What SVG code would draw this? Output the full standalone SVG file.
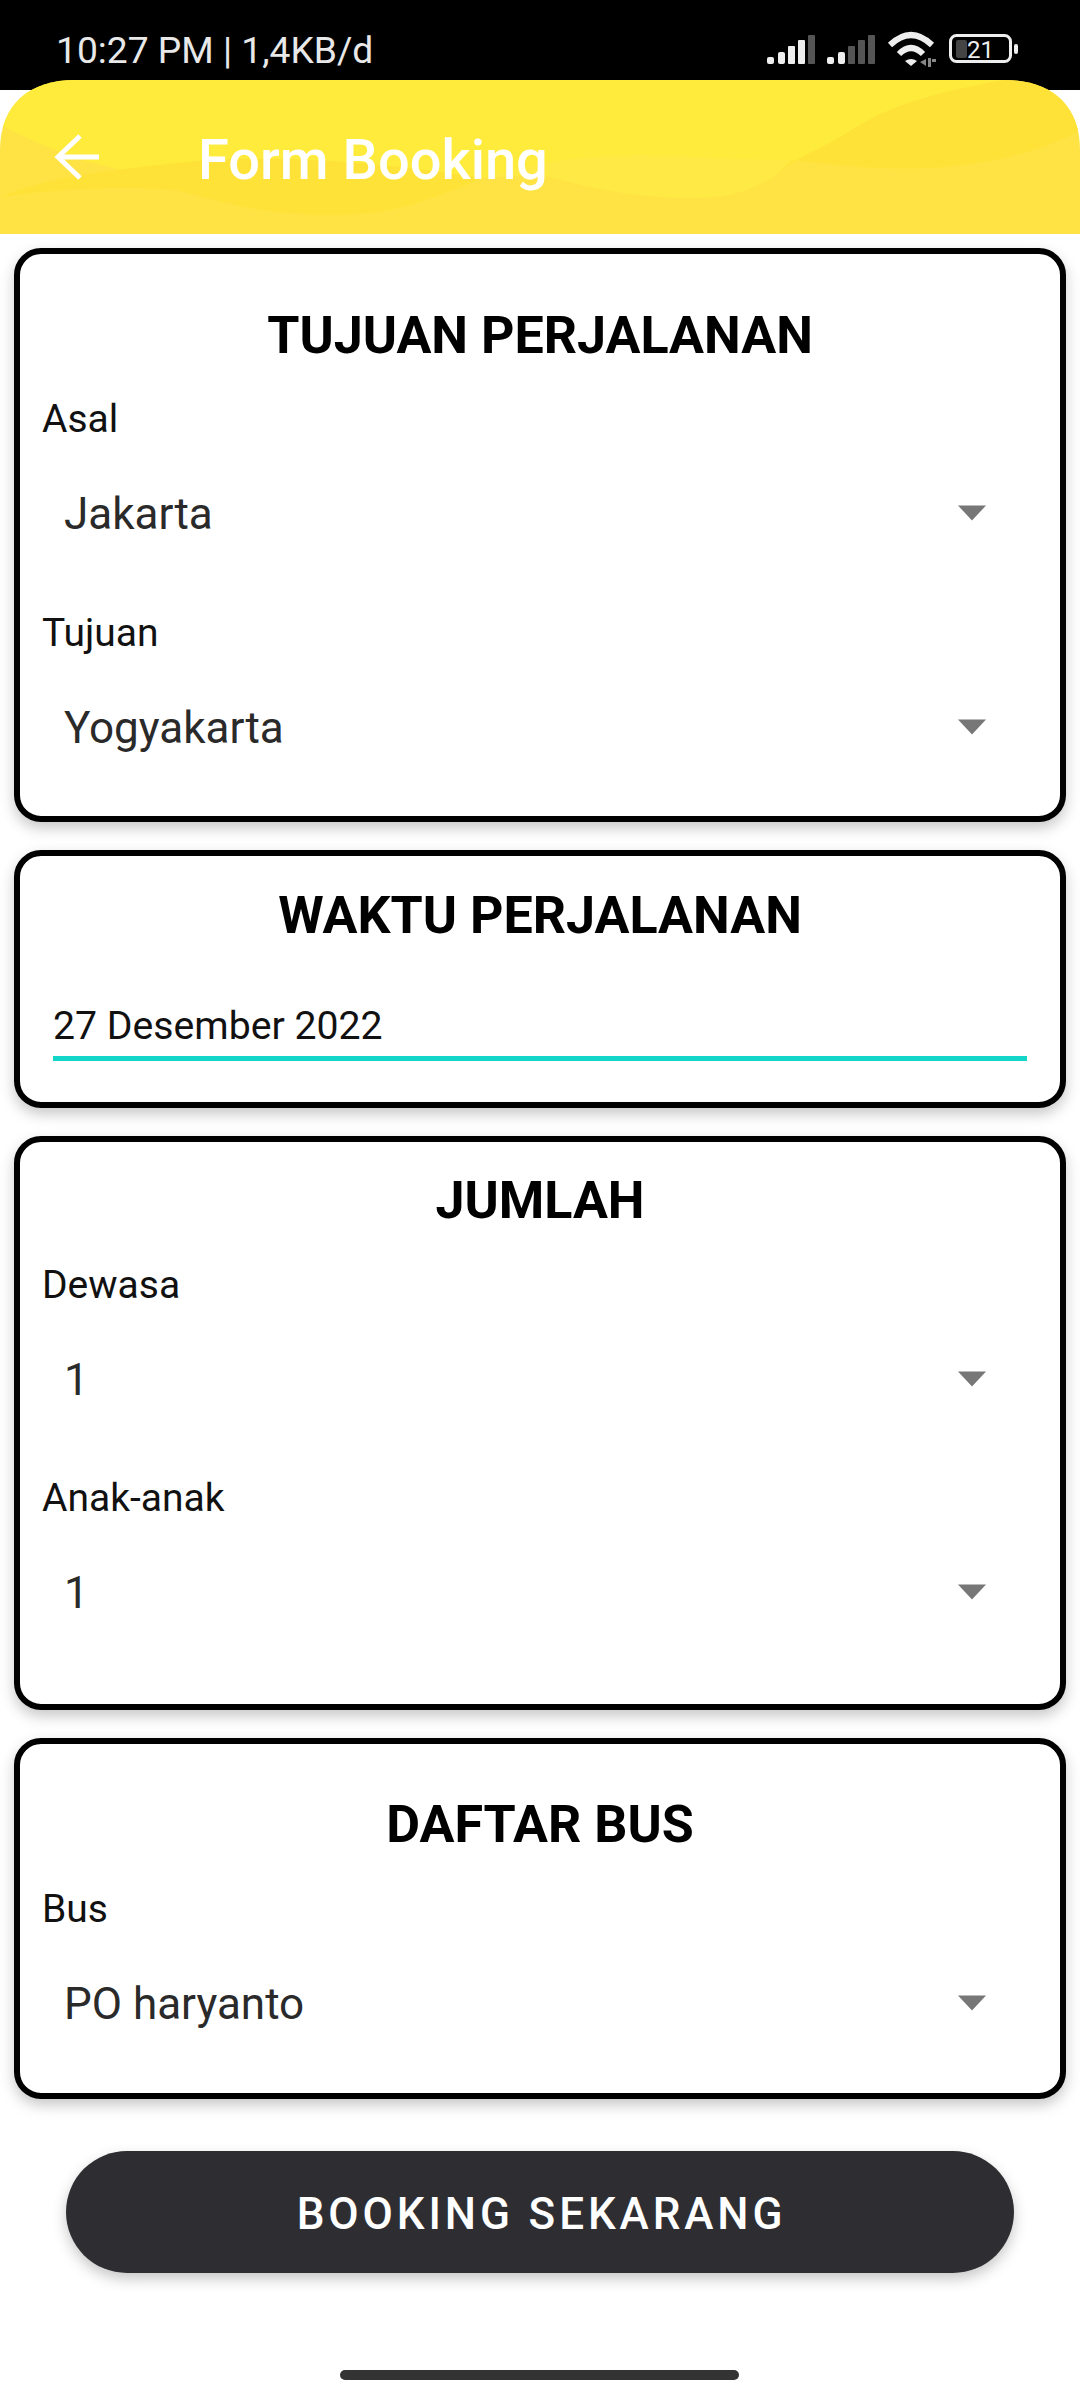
<svg xmlns="http://www.w3.org/2000/svg" width="1080" height="2400" viewBox="0 0 1080 2400">
<style>
text{font-family:Roboto,"Liberation Sans",sans-serif}
.card{fill:#fff;stroke:#000;stroke-width:6;filter:url(#sh)}
.h{font-size:52px;font-weight:700;fill:#000;text-anchor:middle}
.l{font-size:39px;fill:#111}
.v{font-size:44px;fill:#2a2a2a}
.a{fill:#777}
</style>
<defs>
<filter id="sh" x="-5%" y="-10%" width="110%" height="125%"><feDropShadow dx="0" dy="6" stdDeviation="7" flood-color="#000" flood-opacity=".22"/></filter>
<clipPath id="barclip"><path d="M0 234V150C0 104 30 80 75 80H1005C1050 80 1080 104 1080 150V234Z"/></clipPath>
<path id="tri" d="M-14 -7.500H14L0 7.500Z"/>
</defs>
<rect width="1080" height="2400" fill="#fff"/>
<rect width="1080" height="90" fill="#000"/>
<g id="statusbar">
<text x="56" y="63" font-size="37.200" fill="#e8e8e8">10:27 PM | 1,4KB/d</text>
<g fill="#eee">
<rect x="767" y="57" width="7" height="7" rx="2"/><rect x="778" y="52" width="7" height="12" rx="2"/><rect x="788" y="46" width="7" height="18" rx="1"/><rect x="798" y="40" width="7" height="24" rx="1"/>
<rect x="827" y="57" width="7" height="7" rx="2"/><rect x="838" y="52" width="7" height="12" rx="2"/>
</g>
<g fill="#555"><rect x="808" y="35" width="7" height="29" rx="1"/><rect x="848" y="46" width="7" height="18" rx="1"/><rect x="858" y="40" width="7" height="24" rx="1"/><rect x="868" y="35" width="7" height="29" rx="1"/></g>
<g fill="none" stroke="#eee" stroke-width="6"><path d="M890 45Q911 25 932 45"/><path d="M899 54Q911 42 923 54"/></g>
<path d="M905 61Q911 57 917 61L911 66Z" fill="#eee"/>
<path d="M920 62l6-3v7zM928 58h3v9h-3zM932 59h4v3h-4z" fill="#888"/>
<rect x="950.500" y="35.500" width="60" height="26" rx="6" fill="none" stroke="#eee" stroke-width="3"/>
<rect x="956" y="40" width="11" height="18" rx="2" fill="#444"/>
<text x="967" y="58" font-size="24" fill="#eee">21</text>
<rect x="1014" y="44" width="4" height="10" rx="2" fill="#eee"/>
</g>
<g id="appbar">
<g clip-path="url(#barclip)">
<rect y="78" width="1080" height="156" fill="#ffe344"/>
<path d="M0 78V125C50 150 90 165 138 173C206 198 270 215 330 215C400 215 440 195 482 178C510 176 530 174 550 177C590 188 640 198 690 198C730 198 755 190 778 173C800 155 820 150 847 133C890 105 930 95 978 85C1000 80 1020 78 1033 78Z" fill="#ffeb3b"/>
<path d="M482 178C560 155 620 154 675 156C715 158 755 160 792 160L778 173C755 190 730 198 690 198C640 198 590 188 550 177C530 174 510 176 482 178Z" fill="#ffe945"/>
<path d="M778 173L792 160C840 166 880 170 930 168C970 166 1040 155 1080 130V78H1033C1020 78 1000 80 978 85C930 95 890 105 847 133C820 150 800 155 778 173Z" fill="#ffe237"/>
<path d="M0 197C50 175 130 168 206 160C300 155 400 165 482 178C440 195 400 215 333 215C270 215 230 205 177 190C110 185 50 190 0 197Z" fill="#ffe237"/>
</g>
<path d="M57 157H99M80 136L58 157L80 178" fill="none" stroke="#fff" stroke-width="5"/>
<text x="198" y="179" font-size="56" font-weight="500" fill="#fff">Form Booking</text>
</g>
<g id="card-tujuan">
<rect class="card" x="17" y="251" width="1046" height="568" rx="24"/>
<text class="h" x="540" y="353">TUJUAN PERJALANAN</text>
<text class="l" x="42" y="432">Asal</text>
<text class="v" x="64" y="529">Jakarta</text>
<use href="#tri" x="972" y="513" class="a"/>
<text class="l" x="42" y="646">Tujuan</text>
<text class="v" x="64" y="743">Yogyakarta</text>
<use href="#tri" x="972" y="727" class="a"/>
</g>
<g id="card-waktu">
<rect class="card" x="17" y="853" width="1046" height="252" rx="24"/>
<text class="h" x="540" y="933">WAKTU PERJALANAN</text>
<text x="53" y="1039" font-size="39.200" fill="#111">27 Desember 2022</text>
<rect x="53" y="1056" width="974" height="5" fill="#14d6c8"/>
</g>
<g id="card-jumlah">
<rect class="card" x="17" y="1139" width="1046" height="568" rx="24"/>
<text class="h" x="540" y="1218">JUMLAH</text>
<text class="l" x="42" y="1298">Dewasa</text>
<text class="v" x="64" y="1395">1</text>
<use href="#tri" x="972" y="1379" class="a"/>
<text class="l" x="42" y="1511">Anak-anak</text>
<text class="v" x="64" y="1608">1</text>
<use href="#tri" x="972" y="1592" class="a"/>
</g>
<g id="card-bus">
<rect class="card" x="17" y="1741" width="1046" height="355" rx="24"/>
<text class="h" x="540" y="1842">DAFTAR BUS</text>
<text class="l" x="42" y="1922">Bus</text>
<text class="v" x="64" y="2019">PO haryanto</text>
<use href="#tri" x="972" y="2003" class="a"/>
</g>
<g id="button">
<rect x="66" y="2151" width="948" height="122" rx="61" fill="#2f2e33" filter="url(#sh)"/>
<text x="541.500" y="2229" font-size="44" font-weight="500" fill="#fff" text-anchor="middle" letter-spacing="3.9">BOOKING SEKARANG</text>
</g>
<rect id="homebar" x="340" y="2370" width="399" height="10" rx="5" fill="#333"/>
</svg>
